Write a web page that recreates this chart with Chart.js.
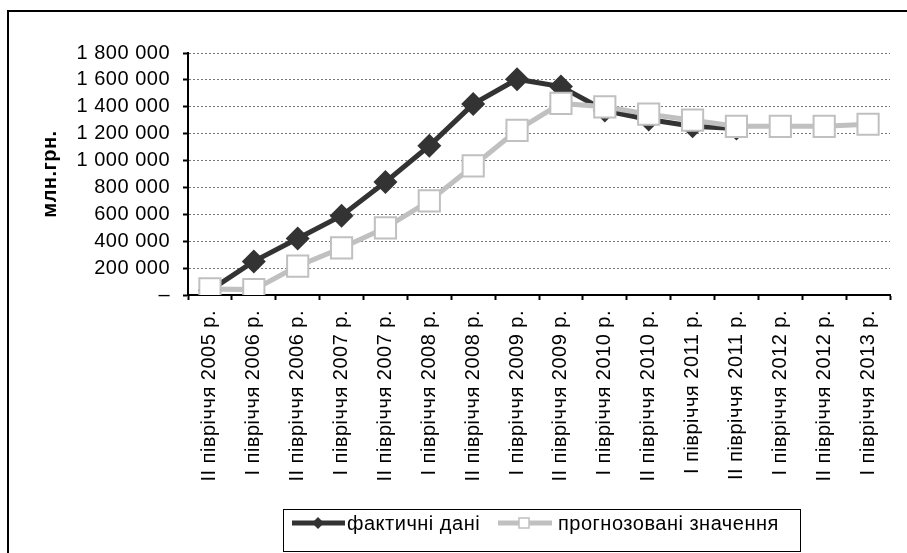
<!DOCTYPE html>
<html>
<head>
<meta charset="utf-8">
<script src="https://cdn.jsdelivr.net/npm/chart.js@4/dist/chart.umd.min.js"></script>
<style>
  html, body { margin: 0; padding: 0; background: #fff; }
  canvas { display: block; }
</style>
</head>
<body>
<canvas id="forecastChart" width="907" height="553"></canvas>
<script>
// категорії (півріччя)
const periods = [
  'II півріччя 2005 р.', 'I півріччя 2006 р.', 'II півріччя 2006 р.', 'I півріччя 2007 р.',
  'II півріччя 2007 р.', 'I півріччя 2008 р.', 'II півріччя 2008 р.', 'I півріччя 2009 р.',
  'II півріччя 2009 р.', 'I півріччя 2010 р.', 'II півріччя 2010 р.', 'I півріччя 2011 р.',
  'II півріччя 2011 р.', 'I півріччя 2012 р.', 'II півріччя 2012 р.', 'I півріччя 2013 р.'
];

// фактичні дані, млн.грн.
const actualValues = [35000, 250000, 420000, 590000, 840000, 1110000, 1420000, 1605000,
  1550000, 1372000, 1305000, 1255000, 1238000, null, null, null];

// прогнозовані значення, млн.грн.
const forecastValues = [45000, 40000, 215000, 350000, 500000, 700000, 960000, 1225000,
  1425000, 1400000, 1345000, 1300000, 1255000, 1255000, 1255000, 1270000];

const yMin = 0;
const yMax = 1800000;
const yStep = 200000;

const seriesNames = ['фактичні дані', 'прогнозовані значення'];

const FONT = '"Liberation Sans", Arial, sans-serif';
const SPACING = '0.5px';

// трохи ширший трекінг тексту, як в оригіналі
const spacingPlugin = {
  id: 'spacing',
  beforeLayout(chart) { chart.ctx.letterSpacing = SPACING; },
  beforeDraw(chart) { chart.ctx.letterSpacing = SPACING; }
};

// рамка діаграми та легенда
const framePlugin = {
  id: 'frame',
  beforeDraw(chart) {
    const c = chart.ctx;
    c.save();
    c.fillStyle = '#fff';
    c.fillRect(0, 0, chart.width, chart.height);
    c.strokeStyle = '#000';
    c.lineWidth = 2;
    c.strokeRect(8, 11, 1000, 1000);
    c.restore();
  },
  afterDraw(chart) {
    const c = chart.ctx;
    c.save();
    c.strokeStyle = '#000';
    c.lineWidth = 1;
    c.strokeRect(283.5, 509.5, 517, 42);

    const y = 523;
    // фактичні дані
    c.strokeStyle = '#333';
    c.lineWidth = 5;
    c.beginPath(); c.moveTo(292, y); c.lineTo(345, y); c.stroke();
    c.fillStyle = '#333';
    c.beginPath();
    c.moveTo(318, y - 6); c.lineTo(324, y); c.lineTo(318, y + 6); c.lineTo(312, y);
    c.closePath(); c.fill();

    // прогнозовані значення
    c.strokeStyle = '#c0c0c0';
    c.beginPath(); c.moveTo(498, y); c.lineTo(552, y); c.stroke();
    c.fillStyle = '#fff';
    c.lineWidth = 1.5;
    c.fillRect(519, y - 5, 10, 10);
    c.strokeRect(519, y - 5, 10, 10);

    c.fillStyle = '#000';
    c.font = '20px ' + FONT;
    c.letterSpacing = SPACING;
    c.textBaseline = 'middle';
    c.textAlign = 'left';
    c.fillText(seriesNames[0], 347, y + 1);
    c.fillText(seriesNames[1], 558, y + 1);
    c.restore();
  }
};

const ctx = document.getElementById('forecastChart').getContext('2d');

new Chart(ctx, {
  type: 'line',
  data: {
    labels: periods,
    datasets: [{
      label: seriesNames[0],
      data: actualValues,
      borderColor: '#333333',
      backgroundColor: '#333333',
      borderWidth: 5,
      pointStyle: 'rectRot',
      pointRadius: 12,
      pointBorderWidth: 0,
      pointBackgroundColor: '#333333',
      tension: 0,
      order: 1
    }, {
      label: seriesNames[1],
      data: forecastValues,
      borderColor: '#c0c0c0',
      backgroundColor: '#ffffff',
      borderWidth: 5,
      pointStyle: 'rect',
      pointRadius: 15,
      pointBorderWidth: 2,
      pointBorderColor: '#c0c0c0',
      pointBackgroundColor: '#ffffff',
      tension: 0,
      order: 0
    }]
  },
  options: {
    responsive: false,
    animation: false,
    layout: { padding: { top: 53, right: 10, bottom: 58, left: 0 } },
    plugins: {
      legend: { display: false },
      tooltip: { enabled: false }
    },
    scales: {
      x: {
        offset: true,
        afterFit(scale) { scale.height = 200; },
        grid: {
          offset: true,
          drawOnChartArea: false,
          tickLength: 5,
          tickColor: '#000',
          tickWidth: 2
        },
        border: { color: '#000', width: 2 },
        ticks: {
          autoSkip: false,
          minRotation: 90,
          maxRotation: 90,
          padding: 10,
          color: '#000',
          font: { family: FONT, size: 20 }
        }
      },
      y: {
        min: yMin,
        max: yMax,
        afterFit(scale) { scale.width = 188; },
        grid: {
          color: '#777',
          lineWidth: 1,
          tickLength: 5,
          tickColor: '#000',
          tickWidth: 2,
          tickBorderDash: []
        },
        border: { color: '#000', width: 2, dash: [2, 2] },
        title: {
          display: true,
          text: 'млн.грн.',
          color: '#000',
          font: { family: FONT, size: 20, weight: 'bold' },
          padding: { top: 38, bottom: 0 }
        },
        ticks: {
          stepSize: yStep,
          autoSkip: false,
          padding: 13,
          color: '#000',
          font: { family: FONT, size: 20 },
          callback: (v) => v === 0 ? '–' : String(v).replace(/\B(?=(\d{3})+(?!\d))/g, ' ')
        }
      }
    }
  },
  plugins: [spacingPlugin, framePlugin]
});
</script>
</body>
</html>
